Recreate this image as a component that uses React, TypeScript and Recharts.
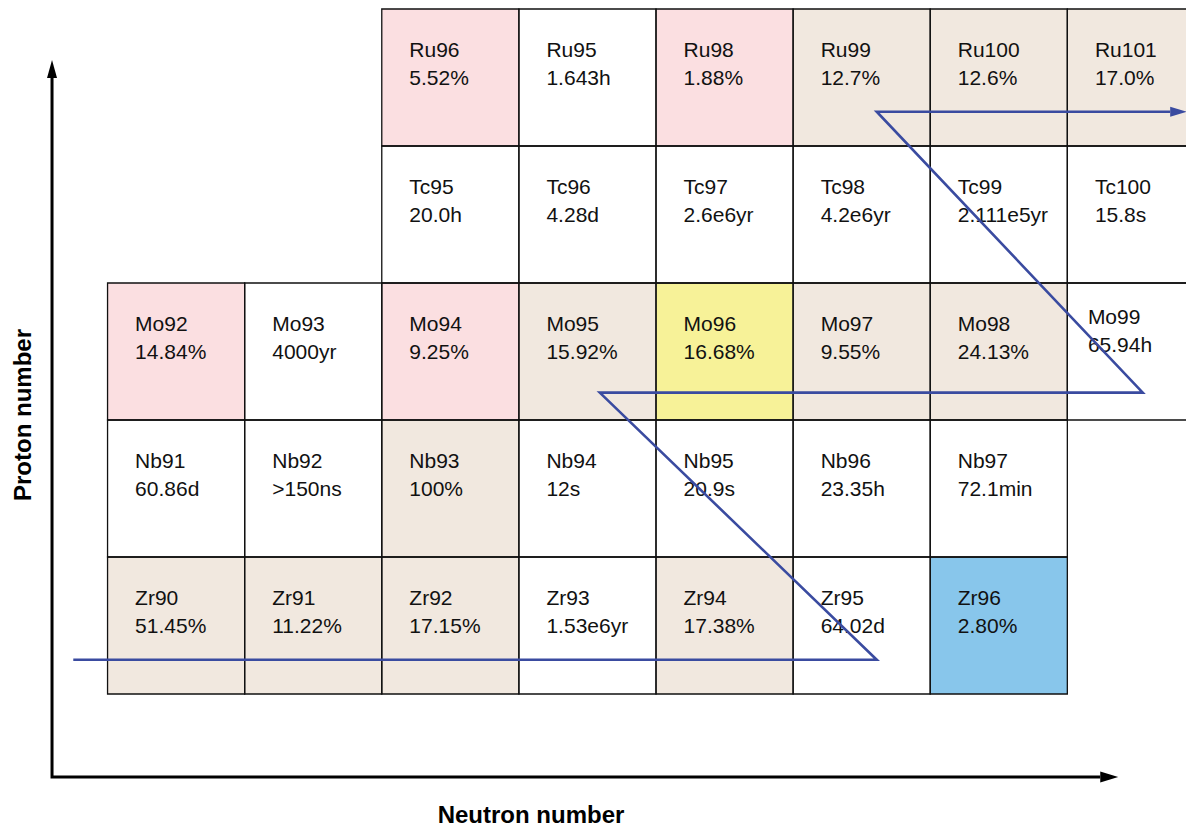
import React from "react";
import { ScatterChart, Scatter, XAxis, YAxis, ReferenceArea } from "recharts";

// ---- Data ----
const ruProton = 44;
const ruNeutrons = [52, 53, 54, 55, 56, 57];
const ruNames = ["Ru96", "Ru95", "Ru98", "Ru99", "Ru100", "Ru101"];
const ruValues = ["5.52%", "1.643h", "1.88%", "12.7%", "12.6%", "17.0%"];
const ruKinds = ["pink", "white", "pink", "beige", "beige", "beige"];

const tcProton = 43;
const tcNeutrons = [52, 53, 54, 55, 56, 57];
const tcNames = ["Tc95", "Tc96", "Tc97", "Tc98", "Tc99", "Tc100"];
const tcValues = ["20.0h", "4.28d", "2.6e6yr", "4.2e6yr", "2.111e5yr", "15.8s"];
const tcKinds = ["white", "white", "white", "white", "white", "white"];

const moProton = 42;
const moNeutrons = [50, 51, 52, 53, 54, 55, 56, 57];
const moNames = ["Mo92", "Mo93", "Mo94", "Mo95", "Mo96", "Mo97", "Mo98", "Mo99"];
const moValues = ["14.84%", "4000yr", "9.25%", "15.92%", "16.68%", "9.55%", "24.13%", "65.94h"];
const moKinds = ["pink", "white", "pink", "beige", "yellow", "beige", "beige", "white"];

const nbProton = 41;
const nbNeutrons = [50, 51, 52, 53, 54, 55, 56];
const nbNames = ["Nb91", "Nb92", "Nb93", "Nb94", "Nb95", "Nb96", "Nb97"];
const nbValues = ["60.86d", ">150ns", "100%", "12s", "20.9s", "23.35h", "72.1min"];
const nbKinds = ["white", "white", "beige", "white", "white", "white", "white"];

const zrProton = 40;
const zrNeutrons = [50, 51, 52, 53, 54, 55, 56];
const zrNames = ["Zr90", "Zr91", "Zr92", "Zr93", "Zr94", "Zr95", "Zr96"];
const zrValues = ["51.45%", "11.22%", "17.15%", "1.53e6yr", "17.38%", "64.02d", "2.80%"];
const zrKinds = ["beige", "beige", "beige", "white", "beige", "white", "blue"];

// zigzag path (neutron, proton)
const pathNeutron = [49.25, 55.11, 53.09, 57.05, 55.11, 57.25];
const pathProton = [39.75, 39.75, 41.7, 41.7, 43.75, 43.75];

// axis lines (neutron, proton)
const axisNeutron = [56.74, 49.095, 49.095];
const axisProton = [38.894, 38.894, 43.996];

const xDomain = [49, 58];
const yDomain = [38.5, 44.5];

// ---- Styles ----
const kindColors: Record<string, string> = {
  pink: "#FBDFE1",
  beige: "#F1E8DF",
  yellow: "#F7F298",
  blue: "#88C6EB",
  white: "#FFFFFF",
};
const FONT = "'Liberation Sans', Arial, Helvetica, sans-serif";
const BLUE = "#3A4BA0";

type Cell = { x: number; y: number; name: string; value: string; kind: string };

function buildRow(z: number, ns: number[], names: string[], values: string[], kinds: string[]): Cell[] {
  return ns.map((n, i) => ({ x: n, y: z, name: names[i], value: values[i], kind: kinds[i] }));
}

const cells: Cell[] = [
  ...buildRow(ruProton, ruNeutrons, ruNames, ruValues, ruKinds),
  ...buildRow(tcProton, tcNeutrons, tcNames, tcValues, tcKinds),
  ...buildRow(moProton, moNeutrons, moNames, moValues, moKinds),
  ...buildRow(nbProton, nbNeutrons, nbNames, nbValues, nbKinds),
  ...buildRow(zrProton, zrNeutrons, zrNames, zrValues, zrKinds),
];

const pathData = pathNeutron.map((x, i) => ({ x, y: pathProton[i] }));
const axisData = axisNeutron.map((x, i) => ({ x, y: axisProton[i] }));
const pathEnd = [pathData[pathData.length - 1]];
const xAxisEnd = [axisData[0]];
const yAxisEnd = [axisData[axisData.length - 1]];

const textOffsets: Record<string, { dx: number; dy: number }> = {
  Mo99: { dx: -7, dy: -7 },
};

const CellText = (props: any) => {
  const { cx, cy, payload } = props;
  if (cx == null || cy == null || !payload) return <g />;
  const off = textOffsets[payload.name] || { dx: 0, dy: 0 };
  const x = cx - 41 + off.dx;
  return (
    <g>
      <text x={x} y={cy - 20.5 + off.dy} fontSize={21} fontFamily={FONT} fill="#111">
        {payload.name}
      </text>
      <text x={x} y={cy + 7 + off.dy} fontSize={21} fontFamily={FONT} fill="#111">
        {payload.value}
      </text>
    </g>
  );
};

const Empty = () => <g />;

const ArrowRight = (color: string, len: number, half: number) => (props: any) => {
  const { cx, cy } = props;
  if (cx == null) return <g />;
  return <polygon points={`${cx},${cy - half} ${cx},${cy + half} ${cx + len},${cy}`} fill={color} />;
};
const ArrowUp = (color: string, len: number, half: number) => (props: any) => {
  const { cx, cy } = props;
  if (cx == null) return <g />;
  return <polygon points={`${cx - half},${cy} ${cx + half},${cy} ${cx},${cy - len}`} fill={color} />;
};

export default function App() {
  return (
    <div style={{ position: "relative", width: 1186, height: 819, overflow: "hidden", fontFamily: FONT }}>
      <ScatterChart width={1270} height={825} margin={{ top: 1, right: 5, bottom: 2, left: 31 }}>
        <XAxis type="number" dataKey="x" domain={xDomain} allowDataOverflow hide />
        <YAxis type="number" dataKey="y" domain={yDomain} allowDataOverflow hide />
        {cells.map((c) => (
          <ReferenceArea
            key={"f" + c.name}
            x1={c.x - 0.5}
            x2={c.x + 0.5}
            y1={c.y - 0.5}
            y2={c.y + 0.5}
            fill={kindColors[c.kind]}
            fillOpacity={1}
            stroke="none"
            ifOverflow="visible"
          />
        ))}
        {cells.map((c) => (
          <ReferenceArea
            key={"s" + c.name}
            x1={c.x - 0.5}
            x2={c.x + 0.5}
            y1={c.y - 0.5}
            y2={c.y + 0.5}
            fill="none"
            fillOpacity={0}
            stroke="#111"
            strokeWidth={1.3}
            ifOverflow="visible"
          />
        ))}
        <Scatter data={cells} shape={CellText} isAnimationActive={false} />
        <Scatter
          data={pathData}
          shape={Empty}
          line={{ stroke: BLUE, strokeWidth: 2.6 }}
          lineType="joint"
          isAnimationActive={false}
        />
        <Scatter data={pathEnd} shape={ArrowRight(BLUE, 17, 5)} isAnimationActive={false} />
        <Scatter
          data={axisData}
          shape={Empty}
          line={{ stroke: "#000", strokeWidth: 3, strokeLinejoin: "miter" }}
          lineType="joint"
          isAnimationActive={false}
        />
        <Scatter data={xAxisEnd} shape={ArrowRight("#000", 18, 5.5)} isAnimationActive={false} />
        <Scatter data={yAxisEnd} shape={ArrowUp("#000", 18, 5)} isAnimationActive={false} />
      </ScatterChart>
      <svg
        width={1186}
        height={819}
        style={{ position: "absolute", left: 0, top: 0, pointerEvents: "none" }}
      >
        <text x={523} y={815} textAnchor="middle" fontSize={24} fontWeight="bold" fontFamily={FONT} fill="#000">
          Neutron number
        </text>
        <text
          x={23}
          y={407}
          textAnchor="middle"
          fontSize={24}
          fontWeight="bold"
          fontFamily={FONT}
          fill="#000"
          transform="rotate(-90, 23, 407)"
        >
          Proton number
        </text>
      </svg>
    </div>
  );
}
